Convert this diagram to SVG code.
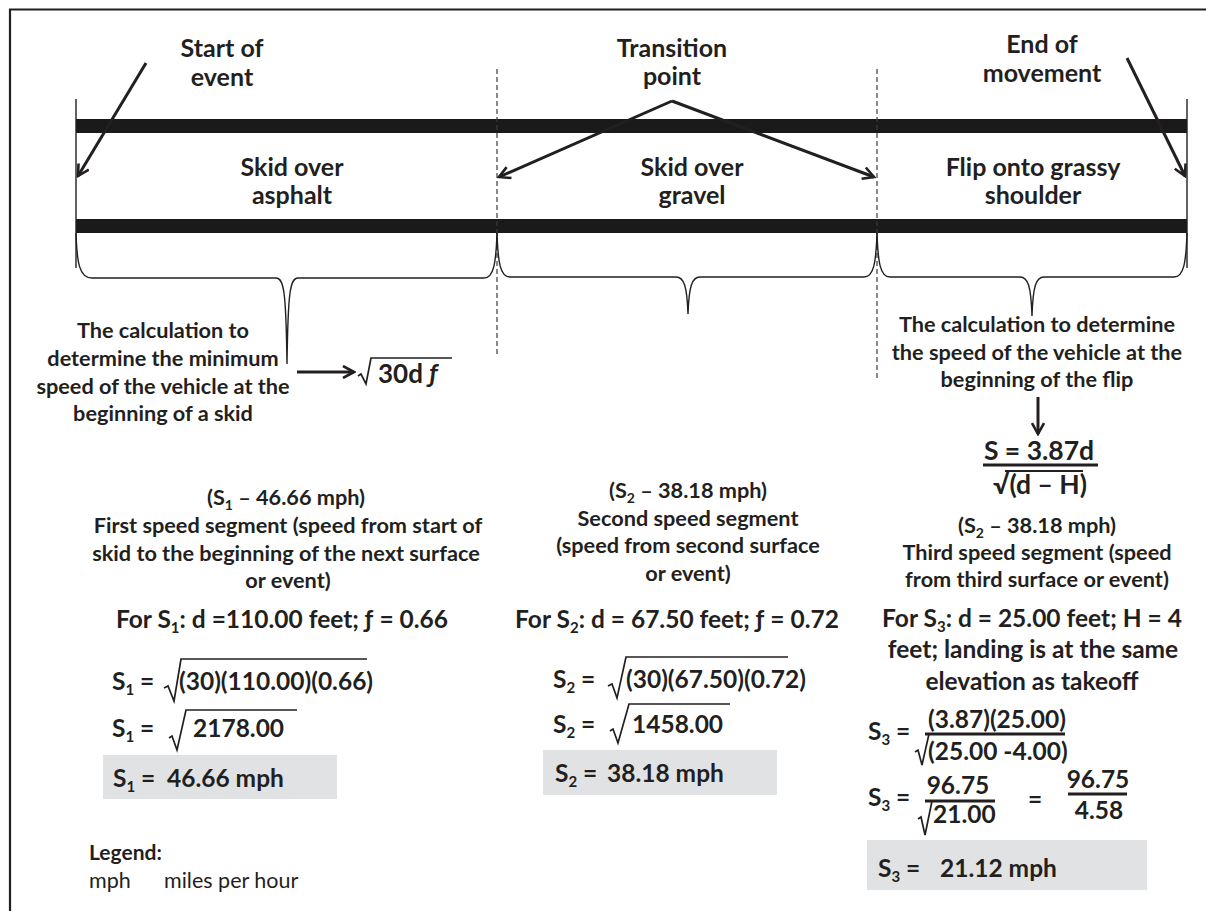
<svg xmlns="http://www.w3.org/2000/svg" width="1206" height="911" viewBox="0 0 1206 911">
  <defs>
    <style>
      .t { font-family: Lato, 'Liberation Sans', sans-serif; font-weight: bold; fill: #231f20; }
      .h { font-size: 25px; text-anchor: middle; }
      .b { font-size: 21.7px; text-anchor: middle; }
      .fx { font-size: 24.5px; }
      .fc { font-size: 24.5px; text-anchor: middle; }
      .big { font-size: 26.5px; text-anchor: middle; }
      .reg { font-weight: normal; font-size: 21.5px; }
      .bar { fill: #1a1a1a; }
      .thin { stroke: #231f20; stroke-width: 1.4; fill: none; }
      .dash { stroke: #3a3a3a; stroke-width: 1.2; stroke-dasharray: 5 3; fill: none; }
      .arr { stroke: #231f20; stroke-width: 3; fill: none; marker-end: url(#head); }
      .rad { stroke: #231f20; stroke-width: 1.7; fill: none; stroke-linejoin: miter; }
      .frac { stroke: #231f20; stroke-width: 3; }
      .box { fill: #e1e2e4; }
    </style>
    <marker id="head" viewBox="0 0 14 14" refX="12" refY="7" markerWidth="14" markerHeight="14" markerUnits="userSpaceOnUse" orient="auto">
      <path d="M1,1 L12,7 L1,13" fill="none" stroke="#231f20" stroke-width="2.6"/>
    </marker>
  </defs>

  <!-- outer frame (left and top edges) -->
  <path d="M10,911 L10,9.5 L1206,9.5" fill="none" stroke="#231f20" stroke-width="2.2"/>

  <!-- road: two black edges with end posts -->
  <g id="road">
    <rect class="bar" x="76" y="119" width="1111" height="14"/>
    <rect class="bar" x="76" y="219" width="1111" height="14"/>
    <line class="thin" x1="76" y1="99" x2="76" y2="268"/>
    <line class="thin" x1="1187" y1="99" x2="1187" y2="268"/>
  </g>

  <!-- surface boundaries -->
  <g id="boundaries">
    <line class="dash" x1="497" y1="69" x2="497" y2="356"/>
    <line class="dash" x1="877" y1="69" x2="877" y2="381"/>
  </g>

  <!-- segment braces -->
  <g id="braces">
    <path class="thin" d="M76,233 C77,262 79,278 92,278 L276,278 C284,278 286,292 287,364 C288,292 290,278 298,278 L484,278 C494,278 496,262 497,233"/>
    <path class="thin" d="M497,233 C498,262 500,277 510,277 L676,277 C684,277 687,286 688,314 C689,286 692,277 700,277 L864,277 C874,277 876,262 877,233"/>
    <path class="thin" d="M877,233 C878,262 880,277 890,277 L1020,277 C1028,277 1031,286 1032,316 C1033,286 1036,277 1044,277 L1174,277 C1184,277 1186,262 1187,233"/>
  </g>

  <!-- connectors -->
  <g id="connectors">
    <line class="arr" x1="146" y1="63" x2="78" y2="176"/>
    <line class="arr" x1="672" y1="101" x2="499" y2="177"/>
    <line class="arr" x1="672" y1="101" x2="874" y2="177"/>
    <line class="arr" x1="1127" y1="58" x2="1185" y2="176"/>
    <line class="arr" x1="297" y1="372" x2="354" y2="372"/>
    <line class="arr" x1="1038" y1="397" x2="1038" y2="434"/>
  </g>

  <!-- road labels -->
  <g id="label-start">
    <text class="t h" x="222" y="57">Start of</text>
    <text class="t h" x="222" y="86">event</text>
  </g>
  <g id="label-transition">
    <text class="t h" x="672" y="57">Transition</text>
    <text class="t h" x="672" y="85">point</text>
  </g>
  <g id="label-end">
    <text class="t h" x="1042" y="53">End of</text>
    <text class="t h" x="1042" y="82">movement</text>
  </g>
  <g id="seg-asphalt">
    <text class="t h" x="292" y="176">Skid over</text>
    <text class="t h" x="292" y="204">asphalt</text>
  </g>
  <g id="seg-gravel">
    <text class="t h" x="692" y="176">Skid over</text>
    <text class="t h" x="692" y="204">gravel</text>
  </g>
  <g id="seg-grass">
    <text class="t h" x="1033" y="176">Flip onto grassy</text>
    <text class="t h" x="1033" y="204">shoulder</text>
  </g>

  <!-- skid formula note -->
  <g id="skid-note">
    <text class="t b" x="163" y="338">The calculation to</text>
    <text class="t b" x="163" y="366">determine the minimum</text>
    <text class="t b" x="163" y="394">speed of the vehicle at the</text>
    <text class="t b" x="163" y="421">beginning of a skid</text>
    <path class="rad" d="M358,376 L361,374 L366,384 L371,358 L452,358"/>
    <text class="t" x="378" y="383" font-size="26">30d <tspan font-style="italic">ƒ</tspan></text>
  </g>

  <!-- flip formula note -->
  <g id="flip-note">
    <text class="t b" x="1037" y="332">The calculation to determine</text>
    <text class="t b" x="1037" y="360">the speed of the vehicle at the</text>
    <text class="t b" x="1037" y="387">beginning of the flip</text>
    <text class="t big" x="1039" y="460">S = 3.87d</text>
    <line class="frac" x1="983" y1="465" x2="1098" y2="465"/>
    <line class="frac" x1="1005" y1="471" x2="1083" y2="471" style="stroke-width:2"/>
    <text class="t big" x="1040" y="494">√(d – H)</text>
  </g>

  <!-- first speed segment -->
  <g id="segment-1">
    <text class="t b" x="286" y="505">(S<tspan font-size="14" dy="5">1</tspan><tspan dy="-5"> – 46.66 mph)</tspan></text>
    <text class="t b" x="288" y="533">First speed segment (speed from start of</text>
    <text class="t b" x="286" y="561">skid to the beginning of the next surface</text>
    <text class="t b" x="288" y="588">or event)</text>
    <text class="t fc" x="282" y="628">For S<tspan font-size="15" dy="5">1</tspan><tspan dy="-5">: d =110.00 feet; ƒ = 0.66</tspan></text>
    <text class="t fx" x="112" y="690">S<tspan font-size="15" dy="5">1</tspan><tspan dy="-5"> =</tspan></text>
    <path class="rad" d="M164,688 L168,686 L174,701 L181,659 L367,659"/>
    <text class="t fx" x="179" y="690">(30)(110.00)(0.66)</text>
    <text class="t fx" x="112" y="737">S<tspan font-size="15" dy="5">1</tspan><tspan dy="-5"> =</tspan></text>
    <path class="rad" d="M169,738 L172,736 L177,750 L186,710 L297,710"/>
    <text class="t fx" x="193" y="737">2178.00</text>
    <rect class="box" x="103" y="755" width="234" height="44"/>
    <text class="t fx" x="113" y="787">S<tspan font-size="15" dy="5">1</tspan><tspan dy="-5"> =</tspan></text>
    <text class="t fx" x="167" y="787">46.66 mph</text>
  </g>

  <!-- second speed segment -->
  <g id="segment-2">
    <text class="t b" x="688" y="498">(S<tspan font-size="14" dy="5">2</tspan><tspan dy="-5"> – 38.18 mph)</tspan></text>
    <text class="t b" x="688" y="526">Second speed segment</text>
    <text class="t b" x="688" y="553">(speed from second surface</text>
    <text class="t b" x="688" y="581">or event)</text>
    <text class="t fc" x="677" y="628">For S<tspan font-size="15" dy="5">2</tspan><tspan dy="-5">: d = 67.50 feet; ƒ = 0.72</tspan></text>
    <text class="t fx" x="553" y="688">S<tspan font-size="15" dy="5">2</tspan><tspan dy="-5"> =</tspan></text>
    <path class="rad" d="M608,686 L612,684 L617,698 L626,657 L788,657"/>
    <text class="t fx" x="626" y="688">(30)(67.50)(0.72)</text>
    <text class="t fx" x="553" y="733">S<tspan font-size="15" dy="5">2</tspan><tspan dy="-5"> =</tspan></text>
    <path class="rad" d="M610,731 L613,729 L618,743 L629,704 L730,704"/>
    <text class="t fx" x="632" y="733">1458.00</text>
    <rect class="box" x="543" y="750" width="234" height="45"/>
    <text class="t fx" x="555" y="782">S<tspan font-size="15" dy="5">2</tspan><tspan dy="-5"> =</tspan></text>
    <text class="t fx" x="607" y="782">38.18 mph</text>
  </g>

  <!-- third speed segment -->
  <g id="segment-3">
    <text class="t b" x="1037" y="533">(S<tspan font-size="14" dy="5">2</tspan><tspan dy="-5"> – 38.18 mph)</tspan></text>
    <text class="t b" x="1037" y="560">Third speed segment (speed</text>
    <text class="t b" x="1037" y="587">from third surface or event)</text>
    <text class="t fc" x="1032" y="627">For S<tspan font-size="15" dy="5">3</tspan><tspan dy="-5">: d = 25.00 feet; H = 4</tspan></text>
    <text class="t fc" x="1033" y="658">feet; landing is at the same</text>
    <text class="t fc" x="1032" y="690">elevation as takeoff</text>

    <text class="t fx" x="868" y="740">S<tspan font-size="15" dy="5">3</tspan><tspan dy="-5"> =</tspan></text>
    <text class="t fc" x="997" y="728">(3.87)(25.00)</text>
    <line class="frac" x1="925" y1="734" x2="1065" y2="734"/>
    <path class="rad" d="M915,752 L918,750 L922,765 L929,734"/>
    <text class="t fx" x="928" y="760">(25.00 -4.00)</text>

    <text class="t fx" x="868" y="806">S<tspan font-size="15" dy="5">3</tspan><tspan dy="-5"> =</tspan></text>
    <text class="t fc" x="958" y="794">96.75</text>
    <line class="frac" x1="925" y1="801" x2="995" y2="801"/>
    <path class="rad" d="M918,819 L921,817 L925,835 L932,801"/>
    <text class="t fx" x="933" y="823">21.00</text>
    <text class="t fc" x="1035" y="808">=</text>
    <text class="t fc" x="1098" y="788">96.75</text>
    <line class="frac" x1="1068" y1="794" x2="1127" y2="794"/>
    <text class="t fc" x="1099" y="819">4.58</text>

    <rect class="box" x="867" y="840" width="280" height="50"/>
    <text class="t fx" x="878" y="877">S<tspan font-size="15" dy="5">3</tspan><tspan dy="-5"> =</tspan></text>
    <text class="t fx" x="940" y="877">21.12 mph</text>
  </g>

  <!-- legend -->
  <g id="legend">
    <text class="t" x="89" y="860" font-size="21">Legend:</text>
    <text class="t reg" x="89" y="888">mph</text>
    <text class="t reg" x="164" y="888">miles per hour</text>
  </g>
</svg>
